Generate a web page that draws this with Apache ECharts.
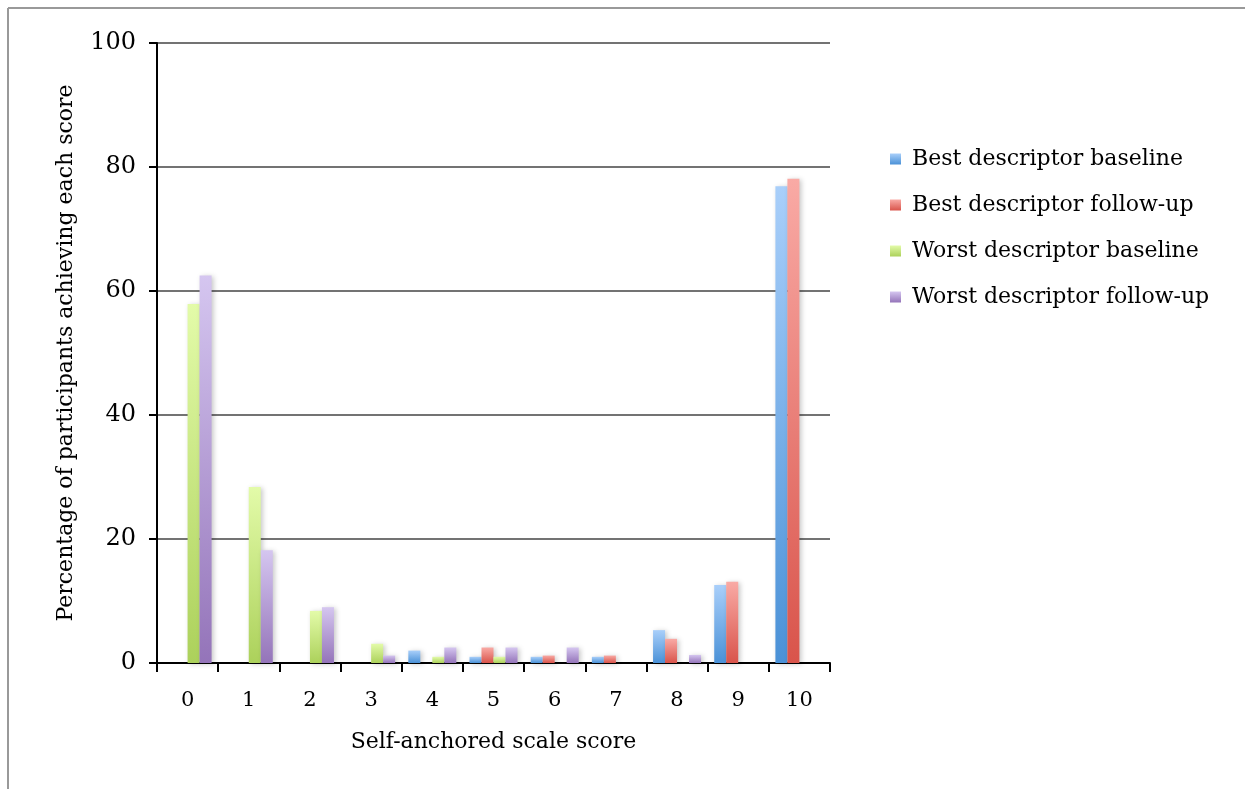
<!DOCTYPE html>
<html>
<head>
<meta charset="utf-8">
<script src="https://cdn.jsdelivr.net/npm/echarts@6/dist/echarts.min.js"></script>
<style>
  html, body { margin: 0; padding: 0; background: #fff; }
  #chart { width: 1245px; height: 789px; }
</style>
</head>
<body>
<div id="chart"></div>
<script>
// Self-anchored scale scores 0-10
const categories = ['0', '1', '2', '3', '4', '5', '6', '7', '8', '9', '10'];

// Percentage of participants achieving each score
const bestBaseline   = [0, 0, 0, 0, 2.0, 1.0, 1.0, 1.0, 5.3, 12.6, 76.9];
const bestFollowUp   = [0, 0, 0, 0, 0, 2.5, 1.2, 1.2, 3.9, 13.1, 78.1];
const worstBaseline  = [57.9, 28.4, 8.4, 3.1, 1.0, 1.0, 0, 0, 0, 0, 0];
const worstFollowUp  = [62.5, 18.2, 9.0, 1.2, 2.5, 2.5, 2.5, 0, 1.3, 0, 0];

const seriesNames = [
  'Best descriptor baseline',
  'Best descriptor follow-up',
  'Worst descriptor baseline',
  'Worst descriptor follow-up'
];

const yTicks = [0, 20, 40, 60, 80, 100];

const FONT = 'DejaVu Serif';

const chart = echarts.init(document.getElementById('chart'), null, { renderer: 'canvas' });

function grad(top, bottom) {
  return new echarts.graphic.LinearGradient(0, 0, 0, 1, [
    { offset: 0, color: top },
    { offset: 1, color: bottom }
  ]);
}

const palette = [
  ['#a9cffa', '#4a91d7'],
  ['#f9aaa5', '#d9544b'],
  ['#e3fba9', '#acd15b'],
  ['#d5c6f0', '#9474b9']
];
const legendColors = ['#6fa7e6', '#ec7f78', '#c8e68a', '#b39cd9'];

function makeSeries(name, data, idx) {
  return {
    name: name,
    type: 'bar',
    data: data,
    barWidth: 12,
    barGap: '0%',
    color: legendColors[idx],
    itemStyle: {
      color: grad(palette[idx][0], palette[idx][1]),
      shadowColor: 'rgba(0,0,0,0.22)',
      shadowBlur: 5,
      shadowOffsetX: 2,
      shadowOffsetY: 1
    },
    emphasis: { disabled: true }
  };
}

chart.setOption({
  animation: false,
  backgroundColor: '#ffffff',
  textStyle: { fontFamily: FONT, color: '#000' },
  graphic: [
    { type: 'line', shape: { x1: 8, y1: 8, x2: 1245, y2: 8 }, style: { stroke: '#999', lineWidth: 2 } },
    { type: 'line', shape: { x1: 8, y1: 8, x2: 8, y2: 789 }, style: { stroke: '#999', lineWidth: 2 } }
  ],
  grid: { left: 157, right: 415, top: 43, bottom: 126, containLabel: false },
  legend: {
    orient: 'vertical',
    left: 885,
    top: 141,
    icon: 'rect',
    itemWidth: 11,
    itemHeight: 11,
    itemGap: 20,
    selectedMode: false,
    textStyle: { fontFamily: FONT, fontSize: 22, color: '#000', lineHeight: 26, padding: [0, 0, 0, 6] },
    data: seriesNames.map((n, i) => ({ name: n, itemStyle: { color: grad(palette[i][0], palette[i][1]) } }))
  },
  xAxis: {
    type: 'category',
    data: categories,
    name: 'Self-anchored scale score',
    nameLocation: 'middle',
    nameGap: 68,
    nameTextStyle: { fontFamily: FONT, fontSize: 22, color: '#000' },
    axisLine: { lineStyle: { color: '#000', width: 2 } },
    axisTick: { show: true, length: 9, lineStyle: { color: '#000', width: 2 }, alignWithLabel: false },
    axisLabel: { fontFamily: FONT, fontSize: 21, color: '#000', margin: 27 },
    splitLine: { show: false }
  },
  yAxis: {
    type: 'value',
    min: 0,
    max: 100,
    interval: 20,
    name: 'Percentage of participants achieving each score',
    nameLocation: 'middle',
    nameGap: 80,
    nameTextStyle: { fontFamily: FONT, fontSize: 22, color: '#000' },
    axisLine: { show: true, lineStyle: { color: '#000', width: 2 } },
    axisTick: { show: true, length: 8, lineStyle: { color: '#000', width: 2 } },
    axisLabel: {
      fontFamily: FONT, fontSize: 24, color: '#000', margin: 21,
      formatter: v => (yTicks.indexOf(v) >= 0 ? String(v) : '')
    },
    splitLine: { show: true, lineStyle: { color: '#444', width: 1.5 } }
  },
  series: [
    makeSeries(seriesNames[0], bestBaseline, 0),
    makeSeries(seriesNames[1], bestFollowUp, 1),
    makeSeries(seriesNames[2], worstBaseline, 2),
    makeSeries(seriesNames[3], worstFollowUp, 3)
  ]
});
</script>
</body>
</html>
